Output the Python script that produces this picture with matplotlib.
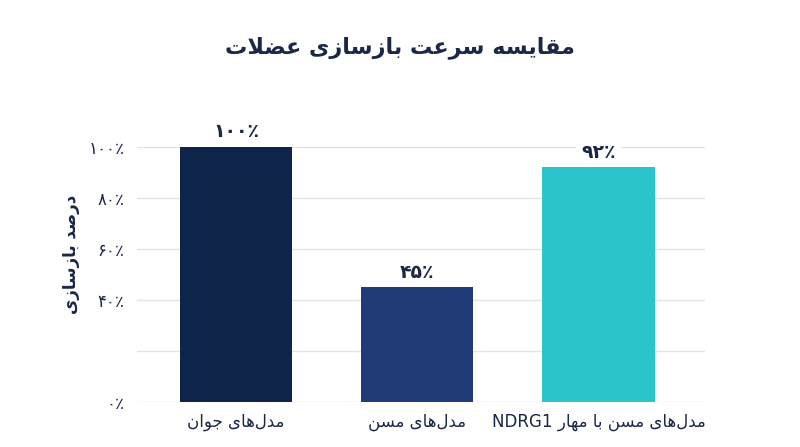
import re
import matplotlib
matplotlib.use("Agg")
import matplotlib.pyplot as plt

# data
categories = ["مدل‌های جوان", "مدل‌های مسن", "مدل‌های مسن با مهار NDRG1"]
values = [100, 45, 92]
value_labels = ["۱۰۰٪", "۴۵٪", "۹۲٪"]
ytick_values = [0, 20, 40, 60, 80, 100]
ytick_labels = ["۰٪", "", "۴۰٪", "۶۰٪", "۸۰٪", "۱۰۰٪"]
title = "مقایسه سرعت بازسازی عضلات"
ylabel = "درصد بازسازی"
bar_colors = ["#0f2449", "#213a78", "#2bc4cb"]
text_color = "#1a2747"

# arabic/persian presentation forms: iso, fin, ini, med
FORMS = {
    "ا": (0xFE8D, 0xFE8E, None, None),
    "ب": (0xFE8F, 0xFE90, 0xFE91, 0xFE92),
    "ت": (0xFE95, 0xFE96, 0xFE97, 0xFE98),
    "ج": (0xFE9D, 0xFE9E, 0xFE9F, 0xFEA0),
    "د": (0xFEA9, 0xFEAA, None, None),
    "ر": (0xFEAD, 0xFEAE, None, None),
    "ز": (0xFEAF, 0xFEB0, None, None),
    "س": (0xFEB1, 0xFEB2, 0xFEB3, 0xFEB4),
    "ص": (0xFEB9, 0xFEBA, 0xFEBB, 0xFEBC),
    "ض": (0xFEBD, 0xFEBE, 0xFEBF, 0xFEC0),
    "ع": (0xFEC9, 0xFECA, 0xFECB, 0xFECC),
    "ق": (0xFED5, 0xFED6, 0xFED7, 0xFED8),
    "ل": (0xFEDD, 0xFEDE, 0xFEDF, 0xFEE0),
    "م": (0xFEE1, 0xFEE2, 0xFEE3, 0xFEE4),
    "ن": (0xFEE5, 0xFEE6, 0xFEE7, 0xFEE8),
    "ه": (0xFEE9, 0xFEEA, 0xFEEB, 0xFEEC),
    "و": (0xFEED, 0xFEEE, None, None),
    "ی": (0xFBFC, 0xFBFD, 0xFBFE, 0xFBFF),
}


def dual(c):
    return c in FORMS and FORMS[c][2] is not None


def shape_rtl(s):
    # join letters
    out = []
    i = 0
    while i < len(s):
        c = s[i]
        prev = s[i - 1] if i > 0 else ""
        nxt = s[i + 1] if i + 1 < len(s) else ""
        joins_prev = c in FORMS and dual(prev)
        if c == "ل" and nxt == "ا":
            out.append(chr(0xFEFC if joins_prev else 0xFEFB))
            i += 2
            continue
        if c not in FORMS:
            if c != "\u200c":
                out.append(c)
            i += 1
            continue
        joins_next = dual(c) and nxt in FORMS
        iso, fin, ini, med = FORMS[c]
        if joins_prev and joins_next:
            code = med
        elif joins_prev:
            code = fin
        elif joins_next:
            code = ini
        else:
            code = iso
        out.append(chr(code))
        i += 1
    return "".join(out)


def rtl(s):
    # simple bidi: keep latin/digit runs, reverse the rest
    parts = re.findall(r"[A-Za-z0-9]+|[^A-Za-z0-9]+", s)
    vis = []
    for p in reversed(parts):
        if re.match(r"[A-Za-z0-9]", p):
            vis.append(p)
        else:
            vis.append(shape_rtl(p)[::-1])
    return "".join(vis)


plt.rcParams["font.family"] = ["DejaVu Sans", "Noto Sans"]

fig = plt.figure(figsize=(8, 4.47), dpi=100)
ax = fig.add_axes([0.171, 0.1007, 0.71, 0.5705])

x = list(range(len(categories)))
bars = ax.bar(x, values, width=0.62, color=bar_colors, zorder=2)

for xi, v, lab in zip(x, values, value_labels):
    ax.annotate(lab, (xi, v), xytext=(0, 4), textcoords="offset points",
                ha="center", va="bottom", fontsize=13.5, fontweight="bold",
                color=text_color, zorder=1,
                bbox=dict(boxstyle="square,pad=0.3", fc="white", ec="none"))

ax.set_xlim(-0.547, 2.586)
ax.set_ylim(0, 100)
ax.set_yticks(ytick_values)
ax.set_yticklabels(ytick_labels)
ax.set_xticks(x)
ax.set_xticklabels([rtl(c) for c in categories])
ax.tick_params(axis="y", length=0, pad=9, labelsize=12, labelcolor=text_color)
ax.tick_params(axis="x", length=0, pad=8, labelsize=12, labelcolor=text_color)

ax.yaxis.grid(True, color="#e4e4e4", linewidth=1, zorder=0)
ax.set_axisbelow(True)
for sp in ax.spines.values():
    sp.set_visible(False)

ax.set_ylabel(rtl(ylabel), fontsize=12, fontweight="bold", color=text_color)
ax.yaxis.set_label_coords(-0.1, 0.58)
fig.text(0.5, 0.893, rtl(title), ha="center", va="center", fontsize=16,
         fontweight="bold", color=text_color)

fig.savefig("out.png", dpi=100, facecolor="white")
